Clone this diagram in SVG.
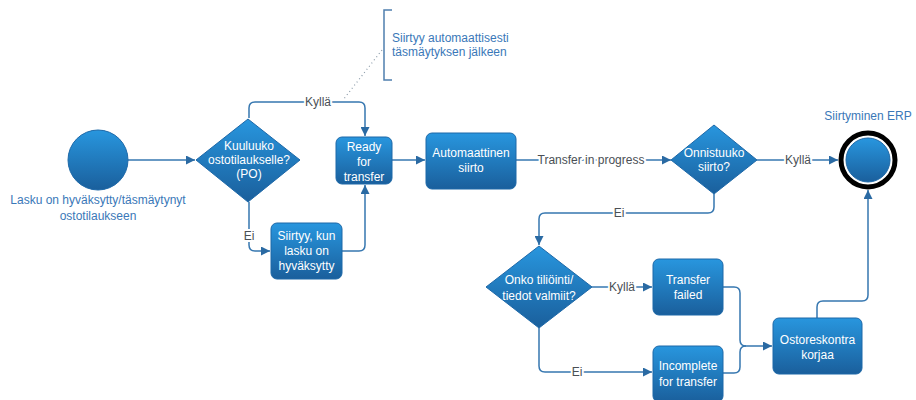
<svg xmlns="http://www.w3.org/2000/svg" width="916" height="400" viewBox="0 0 916 400">
  <defs>
    <linearGradient id="nodeFill" x1="0" y1="0" x2="0" y2="1">
      <stop offset="0" stop-color="#2896de"/>
      <stop offset="1" stop-color="#1a5f9c"/>
    </linearGradient>
    <marker id="arrow" viewBox="0 0 10 10" refX="10" refY="5" markerWidth="9" markerHeight="9" markerUnits="userSpaceOnUse" orient="auto">
      <path d="M0,0 L10,5 L0,10 z" fill="#2a6aa3"/>
    </marker>
    <style>
      .node { fill: url(#nodeFill); stroke: #1d68a8; stroke-width: 1; }
      .ntext { font-family: "Liberation Sans", Arial, sans-serif; font-size: 12px; fill: #ffffff; text-anchor: middle; }
      .edge { fill: none; stroke: #3677b0; stroke-width: 1.5; }
      .elabel { font-family: "Liberation Sans", Arial, sans-serif; font-size: 12px; fill: #4a4f55; text-anchor: middle; paint-order: stroke; stroke: #ffffff; stroke-width: 4px; stroke-linejoin: round; }
      .caption { font-family: "Liberation Sans", Arial, sans-serif; font-size: 12px; fill: #3a78b8; }
    </style>
  </defs>
  <rect width="916" height="400" fill="#ffffff"/>

  <!-- connectors -->
  <g id="connectors">
    <path class="edge" d="M128,160 H195" marker-end="url(#arrow)"/>
    <path class="edge" d="M249,118 V108 Q249,102 255,102 H359 Q365,102 365,108 V136" marker-end="url(#arrow)"/>
    <path class="edge" d="M249,202 V245 Q249,251 255,251 H270" marker-end="url(#arrow)"/>
    <path class="edge" d="M342,251 H359 Q365,251 365,245 V185" marker-end="url(#arrow)"/>
    <path class="edge" d="M392,160 H425" marker-end="url(#arrow)"/>
    <path class="edge" d="M516,160 H671" marker-end="url(#arrow)"/>
    <path class="edge" d="M757,160 H838" marker-end="url(#arrow)"/>
    <path class="edge" d="M714,194 V207 Q714,213 708,213 H545 Q539,213 539,219 V245" marker-end="url(#arrow)"/>
    <path class="edge" d="M592,287 H652" marker-end="url(#arrow)"/>
    <path class="edge" d="M539,328 V366 Q539,372 545,372 H652" marker-end="url(#arrow)"/>
    <path class="edge" d="M723,287 H734 Q740,287 740,293 V340 Q740,346 746,346 H772" marker-end="url(#arrow)"/>
    <path class="edge" d="M723,373 H734 Q740,373 740,367 V352 Q740,346 746,346"/>
    <path class="edge" d="M817,318 V307 Q817,301 823,301 H862 Q868,301 868,295 V190" marker-end="url(#arrow)"/>
    <text class="elabel" x="318" y="106">Kyllä</text>
    <text class="elabel" x="249" y="240">Ei</text>
    <text class="elabel" x="591" y="164">Transfer in progress</text>
    <text class="elabel" x="798" y="164">Kyllä</text>
    <text class="elabel" x="619" y="217">Ei</text>
    <text class="elabel" x="622" y="291">Kyllä</text>
    <text class="elabel" x="577" y="376">Ei</text>
  </g>

  <!-- annotation -->
  <g id="annotation">
    <path d="M392,10 H384 V80 H392" fill="none" stroke="#4f7fae" stroke-width="1.5"/>
    <path d="M382,50 L343,100" fill="none" stroke="#8a9aa8" stroke-width="1.2" stroke-dasharray="1,3"/>
    <text class="caption" x="392" y="42">Siirtyy automaattisesti</text>
    <text class="caption" x="392" y="56">täsmäytyksen jälkeen</text>
  </g>

  <g id="start">
    <circle cx="98" cy="160" r="30" class="node"/>
    <text class="caption" x="98" y="204" text-anchor="middle">Lasku on hyväksytty/täsmäytynyt</text>
    <text class="caption" x="98" y="220" text-anchor="middle">ostotilaukseen</text>
  </g>

  <g id="d-po">
    <polygon class="node" points="248,119 300,160 248,202 196,160"/>
    <text class="ntext" x="249" y="150">Kuuluuko</text>
    <text class="ntext" x="249" y="164">ostotilaukselle?</text>
    <text class="ntext" x="249" y="178">(PO)</text>
  </g>

  <g id="ready">
    <rect class="node" x="336" y="137" width="56" height="47" rx="6"/>
    <text class="ntext" x="364" y="151">Ready</text>
    <text class="ntext" x="364" y="166">for</text>
    <text class="ntext" x="364" y="181">transfer</text>
  </g>

  <g id="siirtyy">
    <rect class="node" x="271" y="223" width="71" height="56" rx="6"/>
    <text class="ntext" x="306.5" y="240">Siirtyy, kun</text>
    <text class="ntext" x="306.5" y="255">lasku on</text>
    <text class="ntext" x="306.5" y="270">hyväksytty</text>
  </g>

  <g id="auto">
    <rect class="node" x="426" y="133" width="90" height="56" rx="6"/>
    <text class="ntext" x="471" y="157">Automaattinen</text>
    <text class="ntext" x="471" y="172">siirto</text>
  </g>

  <g id="d-onnistuuko">
    <polygon class="node" points="714,125 757,160 714,194 671,160"/>
    <text class="ntext" x="714" y="157">Onnistuuko</text>
    <text class="ntext" x="714" y="171">siirto?</text>
  </g>

  <g id="end">
    <circle cx="868" cy="160" r="27" fill="#ffffff" stroke="#000000" stroke-width="5"/>
    <circle cx="868" cy="160" r="22" class="node" stroke="#c8c8c8" stroke-width="1.5"/>
    <text class="caption" x="868" y="120" text-anchor="middle">Siirtyminen ERP</text>
  </g>

  <g id="d-tiedot">
    <polygon class="node" points="539,246 592,287 539,328 486,287"/>
    <text class="ntext" x="539" y="284">Onko tiliöinti/</text>
    <text class="ntext" x="539" y="300">tiedot valmiit?</text>
  </g>

  <g id="failed">
    <rect class="node" x="653" y="259" width="70" height="56" rx="6"/>
    <text class="ntext" x="688" y="284">Transfer</text>
    <text class="ntext" x="688" y="299">failed</text>
  </g>

  <g id="incomplete">
    <rect class="node" x="653" y="346" width="70" height="56" rx="6"/>
    <text class="ntext" x="688" y="370">Incomplete</text>
    <text class="ntext" x="688" y="386">for transfer</text>
  </g>

  <g id="ostoreskontra">
    <rect class="node" x="773" y="318" width="89" height="56" rx="6"/>
    <text class="ntext" x="817.5" y="344">Ostoreskontra</text>
    <text class="ntext" x="817.5" y="359">korjaa</text>
  </g>
</svg>
